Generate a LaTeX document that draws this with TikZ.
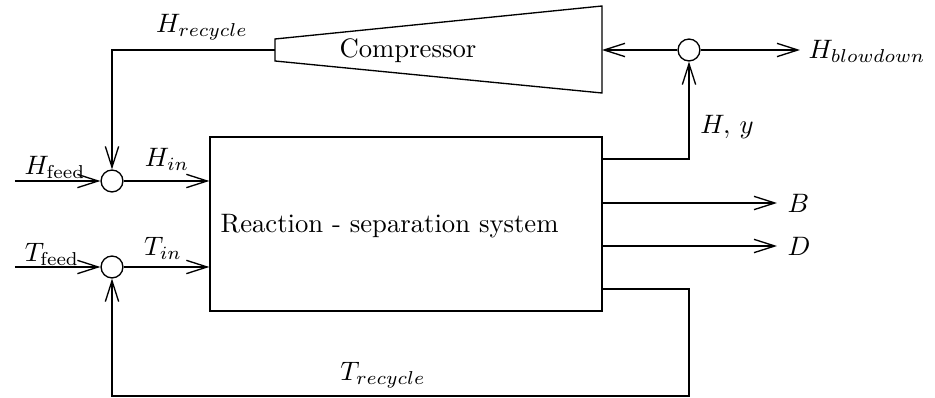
\documentclass[tikz,border=0pt]{standalone}
\usetikzlibrary{arrows.meta}
\begin{document}
\begin{tikzpicture}[x=0.375pt,y=-0.375pt,
  line width=0.5pt,
  flow/.style={-{Straight Barb[length=7.8pt,width=5pt,line width=0.5pt]}},
  junction/.style={circle,draw,minimum size=8.2pt,inner sep=0pt},
  lbl/.style={inner sep=0pt}]
\useasboundingbox (0,0) rectangle (935,398);

% reaction - separation block
\node[draw,minimum width=147pt,minimum height=65.25pt,inner sep=0pt] (rs) at (406,224) {};
\node[lbl,anchor=west] (rstext) at (220,226) {Reaction - separation system};

% compressor (trapezoid)
\coordinate (cl) at (275,50);
\coordinate (cr) at (602,50);
\draw (275,39) -- (602,6) -- (602,93) -- (275,61) -- cycle;
\node[lbl] (comp) at (408,51) {Compressor};

% mixing / splitting junctions
\node[junction] (hs) at (112,181) {};
\node[junction] (ts) at (112,267) {};
\node[junction] (bs) at (689,50) {};

% free ends
\coordinate (hf) at (15,181);
\coordinate (tf) at (15,267);
\coordinate (hyout) at (602,159);
\coordinate (bout) at (602,203);
\coordinate (dout) at (602,246);
\coordinate (trout) at (602,289);
\coordinate (trc) at (689,396);
\coordinate (bend) at (777,203);
\coordinate (dend) at (777,246);
\coordinate (blow) at (800,50);

% hydrogen loop
\draw[flow] (cl) -| (hs.north);
\draw[flow] (hf) -- (hs.west);
\draw[flow] (hs.east) -- (hs -| rs.west);
\draw[flow] (hyout) -| (bs.south);
\draw[flow] (bs.west) -- (cr);
\draw[flow] (bs.east) -- (blow);

% toluene loop
\draw[flow] (tf) -- (ts.west);
\draw[flow] (ts.east) -- (ts -| rs.west);
\draw[flow] (trout) -| (trc) -| (ts.south);

% products
\draw[flow] (bout) -- (bend);
\draw[flow] (dout) -- (dend);

% labels
\node[lbl] (lhr) at (202,27) {$H_{recycle}$};
\node[lbl] (lhf) at (55,167) {$H_{\mathrm{feed}}$};
\node[lbl] (lhi) at (167,159) {$H_{in}$};
\node[lbl] (ltf) at (52,254) {$T_{\mathrm{feed}}$};
\node[lbl] (lti) at (163,248) {$T_{in}$};
\node[lbl] (ltr) at (383,375) {$T_{recycle}$};
\node[lbl] (lhy) at (727,127) {$H,\,y$};
\node[lbl,anchor=west] (lbd) at (808,51) {$H_{blowdown}$};
\node[lbl,anchor=west] (lb) at (787,203) {$B$};
\node[lbl,anchor=west] (ld) at (787,246) {$D$};
\end{tikzpicture}
\end{document}
